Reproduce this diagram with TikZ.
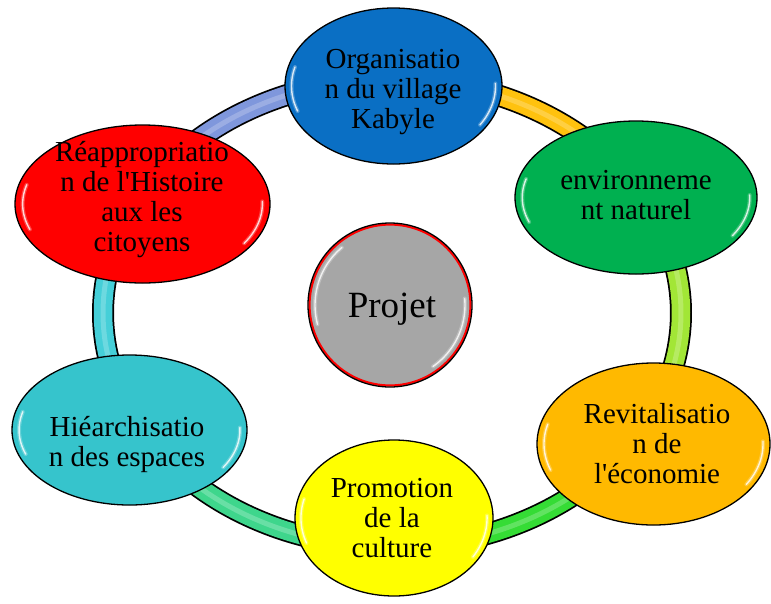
\documentclass[tikz,border=0pt]{standalone}
\usepackage{fontspec}
\setmainfont{Liberation Serif}
\usetikzlibrary{shapes.geometric}
\definecolor{cBlue}{HTML}{0A6FC4}
\definecolor{cGreen}{HTML}{00B050}
\definecolor{cOrange}{HTML}{FFB900}
\definecolor{cYellow}{HTML}{FFFF00}
\definecolor{cCyan}{HTML}{36C4CC}
\definecolor{cRed}{HTML}{FF0000}
\definecolor{cGrey}{HTML}{A6A6A6}
\definecolor{rBlue}{HTML}{7F97DC}
\definecolor{rGold}{HTML}{FFC20E}
\definecolor{rLime}{HTML}{A2E636}
\definecolor{rGreen}{HTML}{35DC35}
\definecolor{rMint}{HTML}{3ED68C}
\definecolor{rCyan}{HTML}{45CFD8}
\tikzset{
  bub/.style={ellipse, draw=black, line width=1.3pt, inner sep=0pt},
  lbl/.style={align=center, font=\fontsize{29}{30}\selectfont, inner sep=0pt},
  ringout/.style={draw=black, line width=22pt},
  ringin/.style={line width=18.5pt},
  ringhi/.style={draw=white, opacity=0.22, line width=5pt},
  glintglow/.style={draw=white, line width=4pt, opacity=0.25, line cap=round},
  glintline/.style={draw=white, line width=1.4pt, opacity=0.8, line cap=round},
}
\newcommand\ringseg[3]{%
  \draw[ringout] plot[domain=#1:#2, samples=60] ({392+289*cos(\x)},{313-234*sin(\x)});
  \draw[ringin, draw=#3] plot[domain=#1:#2, samples=60] ({392+289*cos(\x)},{313-234*sin(\x)});
  \draw[ringhi] plot[domain=#1:#2, samples=60] ({392+289*cos(\x)},{313-234*sin(\x)});
}
\newcommand\glossmark[4]{%
  \draw[glintglow] plot[domain=165:200, samples=25] ({#1+0.94*#3*cos(\x)},{#2-0.94*#4*sin(\x)});
  \draw[glintline] plot[domain=165:200, samples=25] ({#1+0.94*#3*cos(\x)},{#2-0.94*#4*sin(\x)});
  \draw[glintglow] plot[domain=-32:2, samples=25] ({#1+0.94*#3*cos(\x)},{#2-0.94*#4*sin(\x)});
  \draw[glintline] plot[domain=-32:2, samples=25] ({#1+0.94*#3*cos(\x)},{#2-0.94*#4*sin(\x)});
}
\begin{document}
\begin{tikzpicture}[x=1pt, y=-1pt]
\useasboundingbox[fill=white] (0,0) rectangle (771,603);
% ring segments
\ringseg{90}{152}{rBlue}
\ringseg{30}{90}{rGold}
\ringseg{-33}{30}{rLime}
\ringseg{-90}{-33}{rGreen}
\ringseg{-155}{-90}{rMint}
\ringseg{152}{205}{rCyan}
% bubbles
\node[bub, fill=cBlue, minimum width=217pt, minimum height=156pt] (blue) at (393.5,86) {};
\node[bub, fill=cGreen, minimum width=242pt, minimum height=153pt] (green) at (636,197.5) {};
\node[bub, fill=cOrange, minimum width=233pt, minimum height=162pt] (orange) at (653.5,444) {};
\node[bub, fill=cYellow, minimum width=198pt, minimum height=156pt] (yellow) at (394,518) {};
\node[bub, fill=cCyan, minimum width=235pt, minimum height=150pt] (cyan) at (129.5,430) {};
\node[bub, fill=cRed, minimum width=255pt, minimum height=158pt] (red) at (142.5,204) {};
\node[circle, fill=cGrey, draw=red, line width=2.2pt, minimum size=161pt, inner sep=0pt] (proj) at (390,305) {};
\draw[black, line width=1.3pt] (proj.center) circle[radius=82pt];
% gloss
\glossmark{393.5}{86}{108.5}{78}
\glossmark{636}{197.5}{121}{76.5}
\glossmark{653.5}{444}{116.5}{81}
\glossmark{394}{518}{99}{78}
\glossmark{129.5}{430}{117.5}{75}
\glossmark{142.5}{204}{127.5}{79}
\draw[glintglow] plot[domain=130:195, samples=30] ({390+75*cos(\x)},{305-75*sin(\x)});
\draw[glintline] plot[domain=130:195, samples=30] ({390+75*cos(\x)},{305-75*sin(\x)});
\draw[glintglow] plot[domain=-55:5, samples=30] ({390+75*cos(\x)},{305-75*sin(\x)});
\draw[glintline] plot[domain=-55:5, samples=30] ({390+75*cos(\x)},{305-75*sin(\x)});
% labels
\node[lbl] (tblue) at (393,92) {Organisatio\\n du village\\Kabyle};
\node[lbl] (tgreen) at (636,195) {environneme\\nt naturel};
\node[lbl] (torange) at (657,444) {Revitalisatio\\n de\\l\textquotesingle{}économie};
\node[lbl] (tyellow) at (392,518) {Promotion\\de la\\culture};
\node[lbl] (tcyan) at (127,444.5) {Hiéarchisatio\\n des espaces};
\node[lbl] (tred) at (142,200) {Réappropriatio\\n de l\textquotesingle{}Histoire\\aux les\\citoyens};
\node[font=\fontsize{37}{40}\selectfont, inner sep=0pt] (tproj) at (392,309) {Projet};
\end{tikzpicture}
\end{document}
